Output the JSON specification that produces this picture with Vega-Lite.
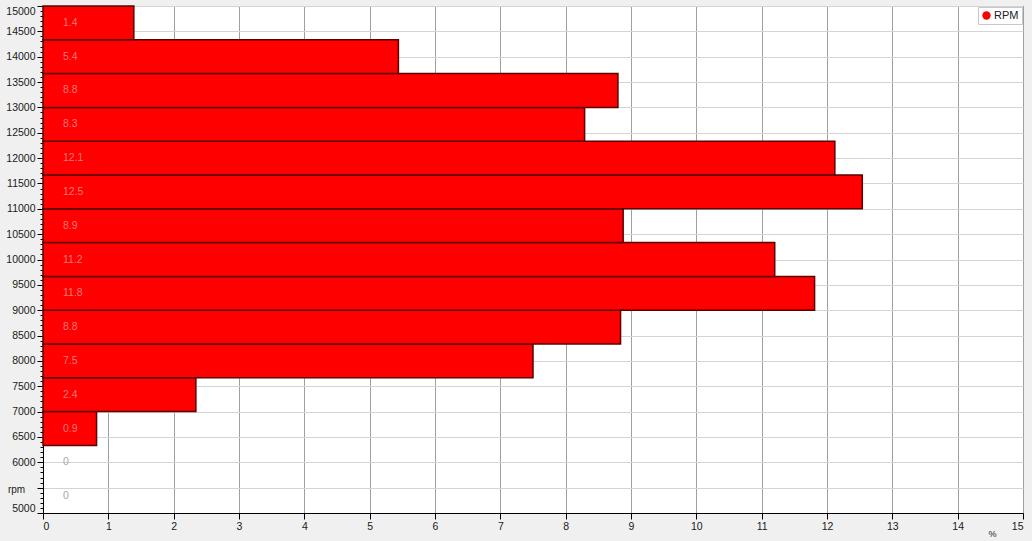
{
  "$schema": "https://vega.github.io/schema/vega-lite/v6.json",
  "autosize": "none",
  "width": 980,
  "height": 507,
  "padding": {"left": 43, "top": 6, "right": 9, "bottom": 28},
  "background": "#f0f0f0",
  "data": {
    "values": [
      {"lo": 5000, "hi": 5666.67, "pct": 0, "label": "0"},
      {"lo": 5666.67, "hi": 6333.33, "pct": 0, "label": "0"},
      {"lo": 6333.33, "hi": 7000, "pct": 0.82, "label": "0.9"},
      {"lo": 7000, "hi": 7666.67, "pct": 2.34, "label": "2.4"},
      {"lo": 7666.67, "hi": 8333.33, "pct": 7.5, "label": "7.5"},
      {"lo": 8333.33, "hi": 9000, "pct": 8.84, "label": "8.8"},
      {"lo": 9000, "hi": 9666.67, "pct": 11.81, "label": "11.8"},
      {"lo": 9666.67, "hi": 10333.33, "pct": 11.2, "label": "11.2"},
      {"lo": 10333.33, "hi": 11000, "pct": 8.88, "label": "8.9"},
      {"lo": 11000, "hi": 11666.67, "pct": 12.54, "label": "12.5"},
      {"lo": 11666.67, "hi": 12333.33, "pct": 12.12, "label": "12.1"},
      {"lo": 12333.33, "hi": 13000, "pct": 8.29, "label": "8.3"},
      {"lo": 13000, "hi": 13666.67, "pct": 8.8, "label": "8.8"},
      {"lo": 13666.67, "hi": 14333.33, "pct": 5.44, "label": "5.4"},
      {"lo": 14333.33, "hi": 15000, "pct": 1.39, "label": "1.4"}
    ]
  },
  "encoding": {
    "y": {
      "field": "lo",
      "type": "quantitative",
      "scale": {"domain": [5000, 15000], "nice": false, "zero": false},
      "axis": {
        "tickCount": 100,
        "labelExpr": "datum.value % 500 === 0 && datum.value !== 5500 ? datum.label : ''",
        "labelFlush": true,
        "labelOverlap": false,
        "format": "d",
        "tickSize": {"condition": {"test": "datum.value % 500 === 0", "value": 6}, "value": 3},
        "gridOpacity": {"condition": {"test": "datum.value % 500 === 0", "value": 1}, "value": 0},
        "gridColor": "#d4d4d4",
        "title": "rpm",
        "titleAngle": 0,
        "titleX": -27,
        "titleY": 483,
        "titleAlign": "center",
        "titleBaseline": "middle",
        "titleFontWeight": "normal",
        "titleFontSize": 10
      }
    }
  },
  "layer": [
    {
      "transform": [{"filter": "datum.pct > 0"}],
      "mark": {"type": "rect", "stroke": "#5a0000", "strokeWidth": 1.5},
      "encoding": {
        "y2": {"field": "hi"},
        "x": {
          "field": "pct",
          "type": "quantitative",
          "scale": {"domain": [0, 15], "nice": false},
          "axis": {
            "values": [0, 0.25, 0.5, 0.75, 1, 1.25, 1.5, 1.75, 2, 2.25, 2.5, 2.75, 3, 3.25, 3.5, 3.75, 4, 4.25, 4.5, 4.75, 5, 5.25, 5.5, 5.75, 6, 6.25, 6.5, 6.75, 7, 7.25, 7.5, 7.75, 8, 8.25, 8.5, 8.75, 9, 9.25, 9.5, 9.75, 10, 10.25, 10.5, 10.75, 11, 11.25, 11.5, 11.75, 12, 12.25, 12.5, 12.75, 13, 13.25, 13.5, 13.75, 14, 14.25, 14.5, 14.75, 15],
            "format": "d",
            "labelExpr": "datum.value % 1 === 0 ? datum.label : ''",
            "labelFlush": true,
            "labelOverlap": false,
            "tickSize": {"condition": {"test": "datum.value % 1 === 0", "value": 6}, "value": 3},
            "gridOpacity": {"condition": {"test": "datum.value % 1 === 0", "value": 1}, "value": 0},
            "gridColor": "#a0a0a0",
            "title": "%",
            "titleX": 949,
            "titleY": 20,
            "titleAlign": "center",
            "titleBaseline": "middle",
            "titleFontWeight": "normal",
            "titleFontSize": 9
          }
        },
        "x2": {"datum": 0},
        "color": {
          "datum": "RPM",
          "scale": {"range": ["#ff0000"]},
          "legend": {
            "orient": "none",
            "legendX": 935,
            "legendY": 1,
            "title": null,
            "fillColor": "white",
            "strokeColor": "#c8c8c8",
            "padding": 3,
            "symbolType": "circle",
            "symbolSize": 70,
            "symbolStrokeWidth": 0,
            "labelFontSize": 11,
            "labelColor": "#222222",
            "labelOffset": 2
          }
        }
      }
    },
    {
      "transform": [{"calculate": "(datum.lo + datum.hi) / 2", "as": "mid"}],
      "mark": {"type": "text", "align": "left", "baseline": "middle", "dx": 20, "fontSize": 10.5, "font": "Liberation Sans"},
      "encoding": {
        "y": {"field": "mid", "type": "quantitative"},
        "x": {"datum": 0, "type": "quantitative"},
        "text": {"field": "label"},
        "color": {
          "condition": {"test": "datum.pct > 0", "value": "#f07878"},
          "value": "#a8a8a8"
        }
      }
    }
  ],
  "config": {
    "font": "Liberation Sans",
    "view": {"fill": "white", "stroke": "black", "strokeWidth": 1},
    "axis": {
      "labelFont": "Liberation Sans",
      "labelFontSize": 10.5,
      "labelColor": "#1a1a1a",
      "labelPadding": 2,
      "tickColor": "black",
      "domainColor": "black",
      "titleColor": "#1a1a1a",
      "titleFont": "Liberation Sans"
    }
  }
}
